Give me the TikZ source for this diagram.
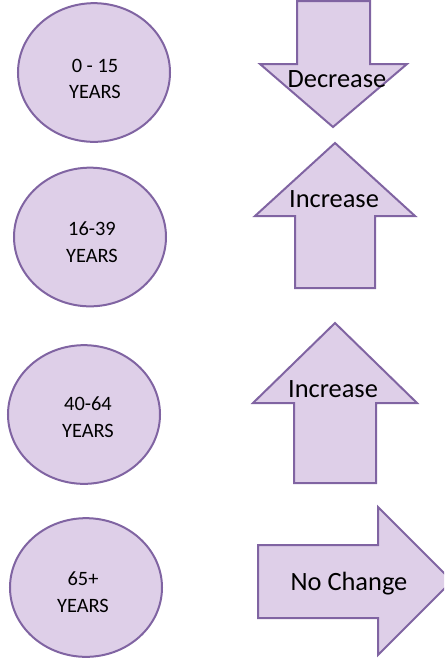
\documentclass[tikz,border=0pt]{standalone}
\usepackage{fontspec}
\setmainfont{Carlito}
\usetikzlibrary{positioning, shapes.geometric}
\definecolor{lilac}{RGB}{222,207,232}
\definecolor{plum}{RGB}{128,100,162}
\tikzstyle{base} = [draw=plum, line width=1.5pt, fill=lilac]
\tikzstyle{age} = [base, ellipse, minimum width=114pt, minimum height=104pt, inner sep=0pt]
\tikzstyle{agetext} = [align=center, inner sep=0pt, font=\fontsize{15.3}{20}\selectfont]
\tikzstyle{block} = [base, line join=miter]
\tikzstyle{trend} = [anchor=base, inner sep=0pt, font=\fontsize{19.8}{24}\selectfont]

\begin{document}
\begin{tikzpicture}[x=0.75pt, y=-0.75pt]

\clip (0,0) rectangle (444,658);

% age groups
\node (AGE_0_15) [age] at (94,72.5) {};
\node (AGE_16_39) [age] at (90,237) {};
\node (AGE_40_64) [age] at (84,414.5) {};
\node (AGE_65) [age] at (86,587.5) {};

\node (TXT_0_15) [agetext] at (95,79) {0 - 15\\YEARS};
\node (TXT_16_39) [agetext] at (92,242) {16-39\\YEARS};
\node (TXT_40_64) [agetext] at (88,417) {40-64\\YEARS};
\node (TXT_65) [agetext] at (83,592) {65+\\YEARS};

% trend arrows
\draw [block] (297,1) -- (370,1) -- (370,64) -- (407,64) -- (333,127) -- (260,64) -- (297,64) -- cycle;
\draw [block] (335,143) -- (415,216) -- (375,216) -- (375,288) -- (295,288) -- (295,216) -- (255,216) -- cycle;
\draw [block] (335,323) -- (417,403) -- (376,403) -- (376,483) -- (294,483) -- (294,403) -- (253,403) -- cycle;
\draw [block] (258,545) -- (378,545) -- (378,507) -- (452,581) -- (378,655) -- (378,618) -- (258,618) -- cycle;

\node (DECREASE) [trend] at (337,87.3) {Decrease};
\node (INCREASE_16_39) [trend] at (334,207) {Increase};
\node (INCREASE_40_64) [trend] at (333,397) {Increase};
\node (NO_CHANGE) [trend] at (349,590) {No Change};

\end{tikzpicture}
\end{document}
